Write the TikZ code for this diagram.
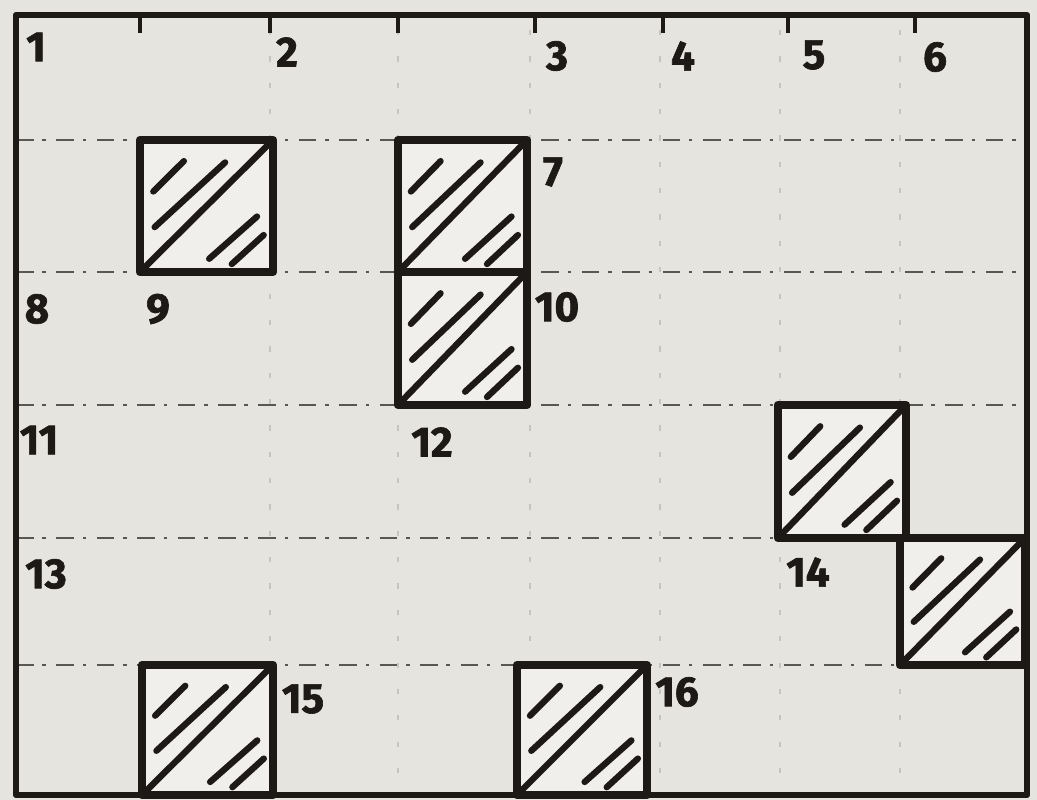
\documentclass[tikz,border=0pt]{standalone}
\usepackage{fontspec}
\usepackage{tikz}
\usetikzlibrary{calc}
\newfontfamily\digitfont{Fira Sans}[FakeBold=1.5]
\definecolor{paper}{RGB}{230,228,222}
\definecolor{ink}{RGB}{28,25,23}
\definecolor{faint}{RGB}{90,86,80}

\tikzset{
  frameline/.style={draw=ink,line width=3.6pt,line cap=round,line join=round},
  cellbox/.style={draw=ink,fill=paper!60!white,line width=4.8pt,line join=round},
  hatch/.style={draw=ink,line width=3.6pt,line cap=round},
  gridline/.style={draw=faint,line width=1pt,dash pattern=on 10pt off 5pt on 2pt off 6pt},
  gridfaint/.style={draw=faint!35,line width=0.7pt,dash pattern=on 3pt off 12pt},
  tickmark/.style={draw=ink,line width=2.4pt},
  numlabel/.style={text=ink,inner sep=0pt,font=\digitfont\bfseries\fontsize{24}{24}\selectfont}
}

% hatched cell: top-left corner (#1,#2), width #3, height #4
\newcommand{\hatchcell}[4]{%
  \draw[cellbox] (#1,#2) rectangle ++(#3,#4);
  \begin{scope}[shift={(#1,#2)},xscale=#3,yscale=#4]
    \draw[hatch] (0.10,0.39) -- (0.33,0.16);
    \draw[hatch] (0.11,0.66) -- (0.64,0.17);
    \draw[hatch] (0.04,0.96) -- (0.96,0.04);
    \draw[hatch] (0.52,0.90) -- (0.88,0.58);
    \draw[hatch] (0.69,0.94) -- (0.93,0.72);
  \end{scope}
}

\begin{document}
\begin{tikzpicture}[x=0.02cm,y=-0.02cm]
\fill[paper] (0,0) rectangle (1037,800);
\useasboundingbox (0,0) rectangle (1037,800);

% grid
\foreach \gy in {140,272,405,538,665}
  \draw[gridline] (16,\gy) -- (1027,\gy);
\foreach \gx in {270,398,530,660,780,900}
  \draw[gridfaint] (\gx,30) -- (\gx,795);

% ticks on the top edge
\foreach \tx in {140,270,398,535,663,788,915}
  \draw[tickmark] (\tx,15) -- (\tx,33);

% hatched cells
\hatchcell{140}{140}{133}{132}
\hatchcell{398}{140}{129}{132}
\hatchcell{398}{272}{129}{133}
\hatchcell{778}{405}{128}{133}
\hatchcell{900}{538}{125}{127}
\hatchcell{142}{665}{131}{130}
\hatchcell{517}{665}{130}{130}

% outer frame
\draw[frameline] (16,15) rectangle (1027,795);

% numbers
\foreach \t/\lx/\ly in {1/36/47,2/287/52,3/557/56,4/683/56,5/814/55,6/935/57,
    7/553/172,8/37/309,9/158/309,10/557/307,11/39/440,12/432/442,
    13/46/574,14/808/572,15/303/699,16/677/692}
  \node[numlabel] (n\t) at (\lx,\ly) {\t};
\end{tikzpicture}
\end{document}
